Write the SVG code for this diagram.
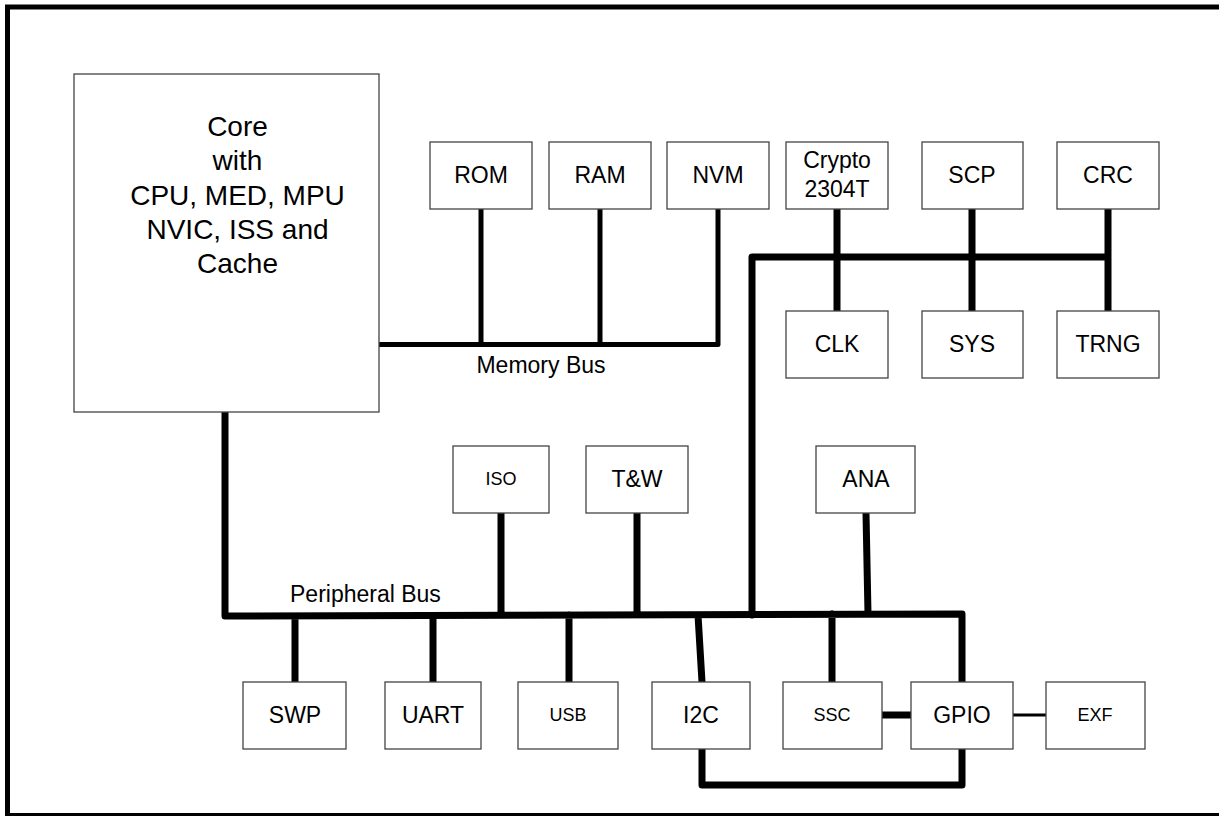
<svg xmlns="http://www.w3.org/2000/svg" width="1219" height="816" viewBox="0 0 1219 816">
<style>
.box{fill:#fff;stroke:#444;stroke-width:1.3}
.t{font-family:"Liberation Sans",Arial,sans-serif;font-size:23px;fill:#000;text-anchor:middle}
.s{font-size:18px}
.c{font-size:28px}
.bus{fill:none;stroke:#000;stroke-width:7;stroke-linecap:round;stroke-linejoin:round}
.mbus{fill:none;stroke:#000;stroke-width:5;stroke-linecap:round;stroke-linejoin:round}
.thin{fill:none;stroke:#000;stroke-width:3}
.frame{fill:none;stroke:#000;stroke-width:5}
</style>
<rect width="1219" height="816" fill="#fff"/>
<path class="frame" d="M1219,7 L7.5,7 L7.5,816 M5,815.5 L1219,815.5"/>
<g id="connectors">
<path class="mbus" d="M379,344.5 L718,344.5 L718,209 M481,344.5 L481,209 M600,344.5 L600,209"/>
<path class="bus" d="M752,615 L752,257 L1108,257 M837,209 L837,311 M972,209 L972,311 M1108,209 L1108,311"/>
<path class="bus" d="M225,412 L225,616 L962,614 L962,682 M295,616 L295,682 M433,616 L433,682 M569,615 L569,682 M501,513 L501,615 M637,513 L637,615 M698,615 L702,682 M832,614 L832,682 M866,513 L868,614"/>
<path class="bus" d="M702,749 L702,785 L962,785 L962,749"/>
<path class="bus" d="M882,715 L911,715"/>
<path class="thin" d="M1013,715 L1046,715"/>
<text class="t" x="541" y="373">Memory Bus</text>
<text class="t" x="290" y="602" style="text-anchor:start">Peripheral Bus</text>
</g>
<g id="core"><rect class="box" x="74" y="74" width="305" height="338"/>
<text class="t c" x="237.5" y="136">Core</text>
<text class="t c" x="237.5" y="170">with</text>
<text class="t c" x="237.5" y="205">CPU, MED, MPU</text>
<text class="t c" x="237.5" y="239">NVIC, ISS and</text>
<text class="t c" x="237.5" y="273">Cache</text></g>
<g id="rom"><rect class="box" x="430" y="142" width="102" height="67"/><text class="t" x="481" y="183">ROM</text></g>
<g id="ram"><rect class="box" x="549" y="142" width="102" height="67"/><text class="t" x="600" y="183">RAM</text></g>
<g id="nvm"><rect class="box" x="667" y="142" width="102" height="67"/><text class="t" x="718" y="183">NVM</text></g>
<g id="crypto"><rect class="box" x="786" y="142" width="102" height="67"/><text class="t" x="837" y="168">Crypto</text><text class="t" x="837" y="197">2304T</text></g>
<g id="scp"><rect class="box" x="922" y="142" width="101" height="67"/><text class="t" x="972" y="183">SCP</text></g>
<g id="crc"><rect class="box" x="1057" y="142" width="102" height="67"/><text class="t" x="1108" y="183">CRC</text></g>
<g id="clk"><rect class="box" x="786" y="311" width="102" height="67"/><text class="t" x="837" y="352">CLK</text></g>
<g id="sys"><rect class="box" x="922" y="311" width="101" height="67"/><text class="t" x="972" y="352">SYS</text></g>
<g id="trng"><rect class="box" x="1057" y="311" width="102" height="67"/><text class="t" x="1108" y="352">TRNG</text></g>
<g id="iso"><rect class="box" x="453" y="446" width="96" height="67"/><text class="t s" x="501" y="485">ISO</text></g>
<g id="tw"><rect class="box" x="586" y="446" width="102" height="67"/><text class="t" x="637" y="487">T&amp;W</text></g>
<g id="ana"><rect class="box" x="816" y="446" width="99" height="67"/><text class="t" x="866" y="487">ANA</text></g>
<g id="swp"><rect class="box" x="243" y="682" width="103" height="67"/><text class="t" x="295" y="723">SWP</text></g>
<g id="uart"><rect class="box" x="385" y="682" width="96" height="67"/><text class="t" x="433" y="723">UART</text></g>
<g id="usb"><rect class="box" x="518" y="682" width="100" height="67"/><text class="t s" x="568" y="721">USB</text></g>
<g id="i2c"><rect class="box" x="652" y="682" width="98" height="67"/><text class="t" x="701" y="723">I2C</text></g>
<g id="ssc"><rect class="box" x="783" y="682" width="99" height="67"/><text class="t s" x="832" y="721">SSC</text></g>
<g id="gpio"><rect class="box" x="911" y="682" width="102" height="67"/><text class="t" x="962" y="723">GPIO</text></g>
<g id="exf"><rect class="box" x="1046" y="682" width="99" height="67"/><text class="t s" x="1095" y="721">EXF</text></g>
</svg>
